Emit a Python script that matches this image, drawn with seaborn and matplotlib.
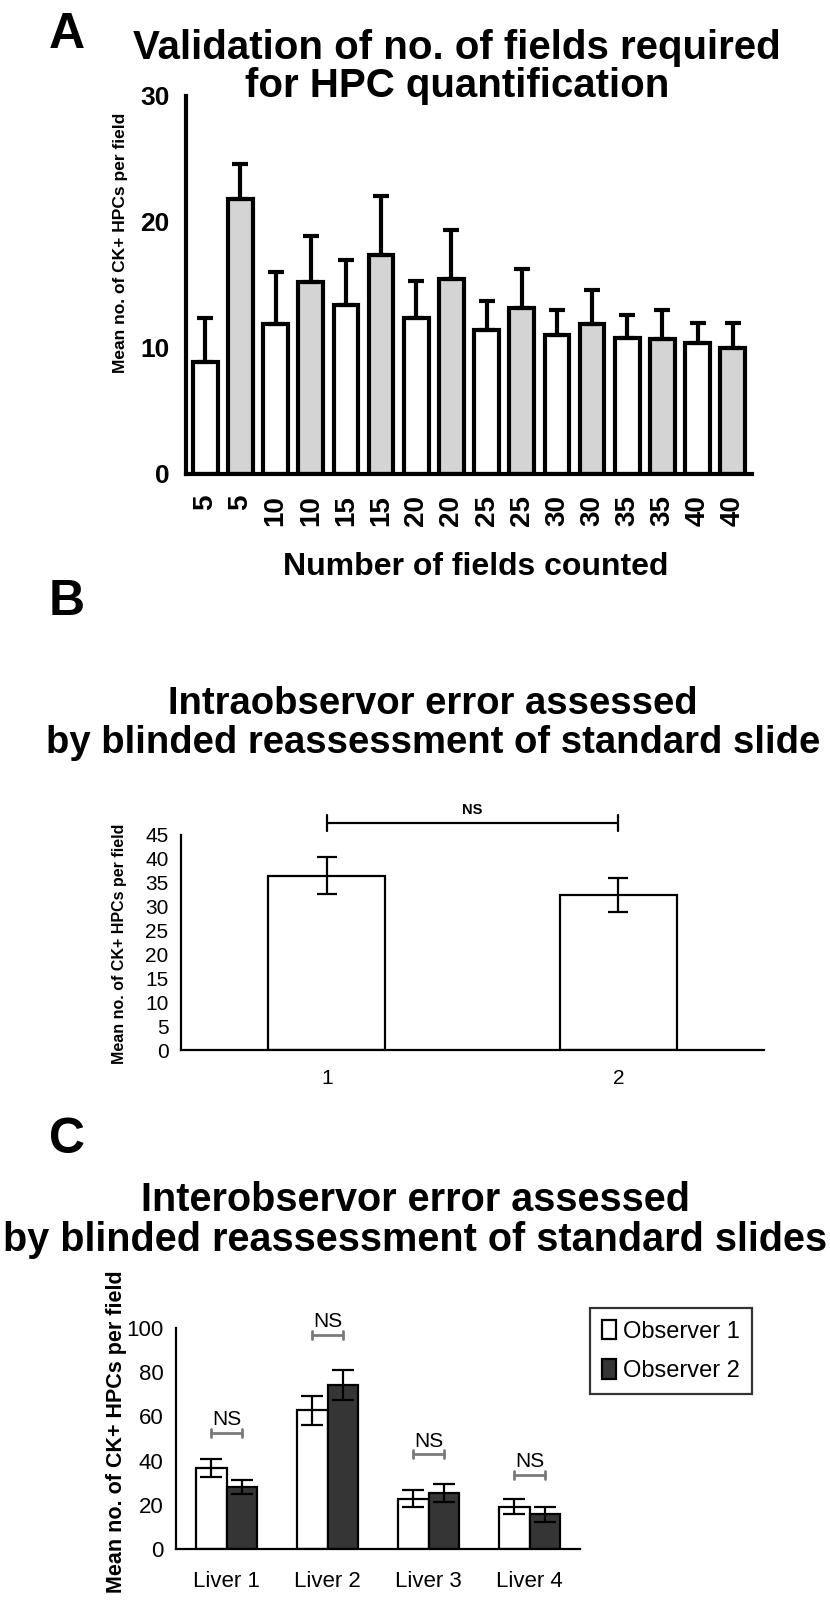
import numpy as np
import pandas as pd
import matplotlib
matplotlib.use("Agg")
import matplotlib.pyplot as plt
import seaborn as sns

# ---------------- data ----------------
a_labels = ["5", "5", "10", "10", "15", "15", "20", "20", "25", "25",
            "30", "30", "35", "35", "40", "40"]
a_means = [8.9, 21.8, 11.9, 15.2, 13.4, 17.4, 12.4, 15.5, 11.4, 13.2,
           11.0, 11.9, 10.8, 10.7, 10.4, 10.0]
a_errs = [3.5, 2.8, 4.1, 3.7, 3.6, 4.7, 2.9, 3.9, 2.3, 3.1,
          2.0, 2.7, 1.8, 2.3, 1.6, 2.0]
a_groups = ["white", "grey"] * 8

b_labels = ["1", "2"]
b_means = [36.5, 32.5]
b_errs = [3.9, 3.6]
b_ns_level = 47.5

c_livers = ["Liver 1", "Liver 2", "Liver 3", "Liver 4"]
c_obs1 = [36.7, 62.7, 22.7, 19.2]
c_obs1_err = [4.2, 6.5, 3.8, 3.4]
c_obs2 = [28.1, 74.2, 25.3, 15.7]
c_obs2_err = [3.3, 6.8, 4.0, 3.3]
c_ns_levels = [52.6, 97.0, 42.8, 33.7]

# ---------------- style ----------------
sns.set_theme(style="white")
plt.rcParams["font.family"] = ["Liberation Sans", "DejaVu Sans"]
plt.rcParams["text.color"] = "black"
plt.rcParams["axes.labelcolor"] = "black"
plt.rcParams["xtick.color"] = "black"
plt.rcParams["ytick.color"] = "black"

W, H = 830, 1623
fig = plt.figure(figsize=(W / 100, H / 100), dpi=100)


def fx(px):
    return px / W


def fy(py):
    return 1 - py / H


def axes_px(l, t, r, b):
    return fig.add_axes([fx(l), fy(b), (r - l) / W, (b - t) / H])


def style_spines(ax, lw):
    for s in ["top", "right"]:
        ax.spines[s].set_visible(False)
    for s in ["left", "bottom"]:
        ax.spines[s].set_linewidth(lw)
        ax.spines[s].set_color("black")


def title_lines(lines, cx, ys, size):
    for line, y in zip(lines, ys):
        fig.text(fx(cx), fy(y), line, fontsize=size, fontweight="bold",
                 ha="center", va="center")


# ---------------- panel A ----------------
axA = axes_px(186, 96, 752, 474)
dfA = pd.DataFrame({"pos": np.arange(len(a_means)), "mean": a_means, "grp": a_groups})
sns.barplot(data=dfA, x="pos", y="mean", hue="grp",
            palette={"white": "white", "grey": "#d4d4d4"},
            dodge=False, width=0.7, edgecolor="black", linewidth=3,
            errorbar=None, legend=False, ax=axA)
axA.errorbar(dfA["pos"], a_means, yerr=[np.zeros(len(a_errs)), a_errs],
             fmt="none", ecolor="black", elinewidth=3, capsize=6, capthick=3, zorder=1)
axA.set_ylim(0, 30)
axA.set_xlim(-0.55, 15.55)
axA.set_yticks([0, 10, 20, 30])
axA.set_yticklabels(["0", "10", "20", "30"], fontsize=19, fontweight="bold")
axA.set_xticks(np.arange(len(a_labels)))
axA.set_xticklabels(a_labels, rotation=90, fontsize=20, fontweight="bold")
axA.set_xlabel("")
axA.set_ylabel("")
style_spines(axA, 3)
axA.tick_params(axis="both", direction="out", length=9, width=3, color="black", pad=3)
axA.tick_params(axis="x", length=11, pad=4)

fig.text(fx(67), fy(35), "A", fontsize=36, fontweight="bold", ha="center", va="center")
title_lines(["Validation of no. of fields required", "for HPC quantification"],
            457, [48, 86], 29)
fig.text(fx(476), fy(567), "Number of fields counted", fontsize=23, fontweight="bold",
         ha="center", va="center")
fig.text(fx(121), fy(243), "Mean no. of CK+ HPCs per field", fontsize=12.5,
         fontweight="bold", rotation=90, ha="center", va="center")

# ---------------- panel B ----------------
axB = axes_px(181, 835, 764, 1050)
dfB = pd.DataFrame({"obs": b_labels, "mean": b_means})
sns.barplot(data=dfB, x="obs", y="mean", color="white", width=0.4,
            edgecolor="black", linewidth=1.6, errorbar=None, ax=axB)
axB.errorbar(np.arange(len(b_means)), b_means, yerr=b_errs, fmt="none",
             ecolor="black", elinewidth=1.6, capsize=7, capthick=1.6, zorder=3)
axB.set_ylim(0, 45)
axB.set_xlim(-0.5, 1.5)
axB.set_yticks(np.arange(0, 46, 5))
axB.set_yticklabels([str(v) for v in range(0, 46, 5)], fontsize=15)
axB.set_xticks(np.arange(len(b_labels)))
axB.set_xticklabels(b_labels, fontsize=15)
axB.set_xticks([-0.5, 0.5, 1.5], minor=True)
axB.tick_params(axis="x", which="major", length=0, pad=14)
axB.tick_params(axis="x", which="minor", length=7, width=1.6, direction="out", color="black")
axB.tick_params(axis="y", length=6, width=1.6, direction="out", color="black", pad=3)
axB.set_xlabel("")
axB.set_ylabel("")
style_spines(axB, 1.6)
# NS bracket
axB.plot([0, 1], [b_ns_level, b_ns_level], color="black", lw=1.6, clip_on=False)
for xx in [0, 1]:
    axB.plot([xx, xx], [b_ns_level - 1.6, b_ns_level + 1.6], color="black", lw=1.6, clip_on=False)
axB.text(0.5, b_ns_level + 1.2, "NS", fontsize=10.5, fontweight="bold", ha="center", va="bottom")

fig.text(fx(67), fy(602), "B", fontsize=36, fontweight="bold", ha="center", va="center")
title_lines(["Intraobservor error assessed", "by blinded reassessment of standard slide"],
            433, [704, 743], 27.5)
fig.text(fx(119), fy(944), "Mean no. of CK+ HPCs per field", fontsize=11.5,
         fontweight="bold", rotation=90, ha="center", va="center")

# ---------------- panel C ----------------
axC = axes_px(176, 1328, 580, 1549)
dfC = pd.DataFrame({
    "liver": c_livers * 2,
    "mean": c_obs1 + c_obs2,
    "observer": ["Observer 1"] * 4 + ["Observer 2"] * 4,
})
sns.barplot(data=dfC, x="liver", y="mean", hue="observer",
            palette={"Observer 1": "white", "Observer 2": "#353535"},
            width=0.6, edgecolor="black", linewidth=1.6, errorbar=None, ax=axC)
xs = np.arange(len(c_livers))
axC.errorbar(xs - 0.15, c_obs1, yerr=c_obs1_err, fmt="none", ecolor="black",
             elinewidth=1.6, capsize=8, capthick=1.6, zorder=3)
axC.errorbar(xs + 0.15, c_obs2, yerr=c_obs2_err, fmt="none", ecolor="black",
             elinewidth=1.6, capsize=8, capthick=1.6, zorder=3)
for i, lvl in enumerate(c_ns_levels):
    axC.plot([i - 0.15, i + 0.15], [lvl, lvl], color="#7a7a7a", lw=2, clip_on=False)
    for xx in [i - 0.15, i + 0.15]:
        axC.plot([xx, xx], [lvl - 1.8, lvl + 1.8], color="#7a7a7a", lw=2, clip_on=False)
    axC.text(i, lvl + 1.5, "NS", fontsize=15, ha="center", va="bottom", clip_on=False)
axC.set_ylim(0, 100)
axC.set_xlim(-0.5, 3.5)
axC.set_yticks(np.arange(0, 101, 20))
axC.set_yticklabels([str(v) for v in range(0, 101, 20)], fontsize=16)
axC.set_xticks(xs)
axC.set_xticklabels(c_livers, fontsize=16)
axC.set_xticks([-0.5, 0.5, 1.5, 2.5, 3.5], minor=True)
axC.tick_params(axis="x", which="major", length=0, pad=16)
axC.tick_params(axis="x", which="minor", length=7, width=1.6, direction="out", color="black")
axC.tick_params(axis="y", length=6, width=1.6, direction="out", color="black", pad=3)
axC.set_xlabel("")
axC.set_ylabel("")
style_spines(axC, 1.6)
leg = axC.legend(loc="upper left", bbox_to_anchor=(fx(590), fy(1308)),
                 bbox_transform=fig.transFigure, frameon=True, fancybox=False,
                 edgecolor="black", fontsize=17, handlelength=0.6, handleheight=0.9,
                 handletextpad=0.3, borderpad=0.5, labelspacing=0.7, borderaxespad=0)
leg.get_frame().set_linewidth(1.6)

fig.text(fx(67), fy(1140), "C", fontsize=36, fontweight="bold", ha="center", va="center")
title_lines(["Interobservor error assessed", "by blinded reassessment of standard slides"],
            415, [1200, 1240], 28.5)
fig.text(fx(116), fy(1432), "Mean no. of CK+ HPCs per field", fontsize=15.5,
         fontweight="bold", rotation=90, ha="center", va="center")

fig.savefig("out.png", dpi=100, facecolor="white")
